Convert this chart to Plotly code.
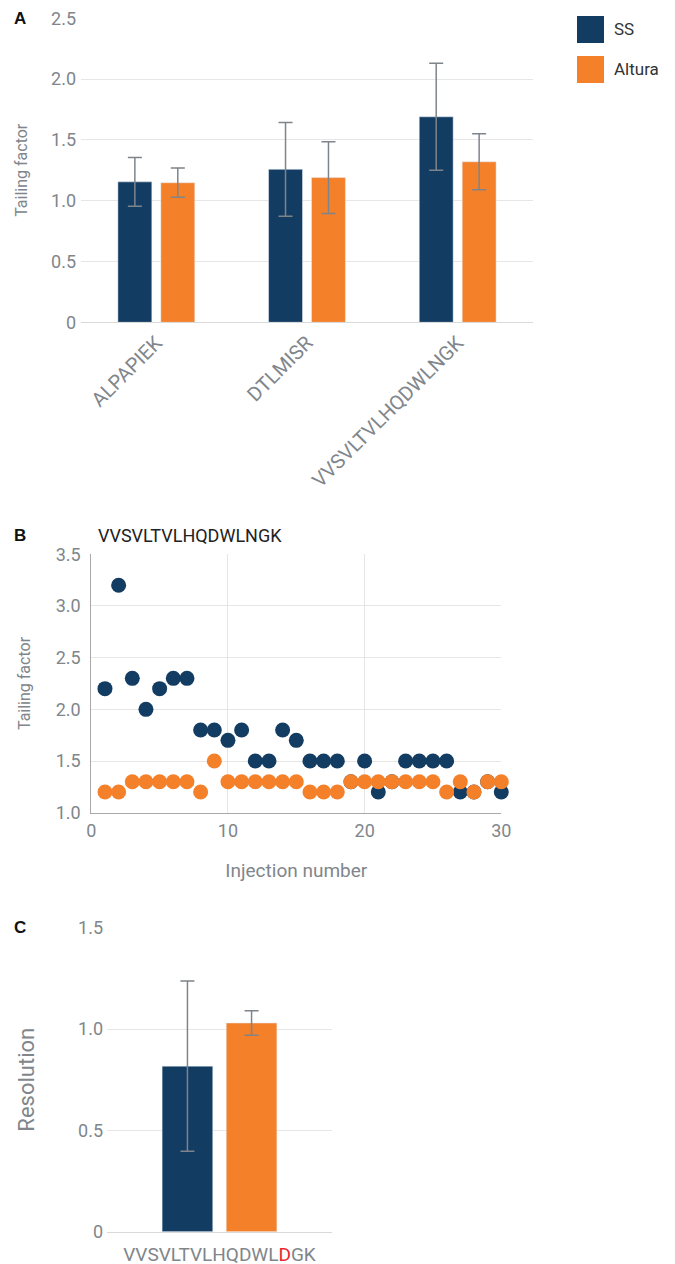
import plotly.graph_objects as go

# ---------------- data ----------------
peptides = ["ALPAPIEK", "DTLMISR", "VVSVLTVLHQDWLNGK"]
tf_ss = [1.155, 1.258, 1.69]
tf_ss_err = [0.2, 0.385, 0.44]
tf_altura = [1.148, 1.19, 1.32]
tf_altura_err = [0.12, 0.295, 0.23]

injection = list(range(1, 31))
inj_ss = [2.2, 3.2, 2.3, 2.0, 2.2, 2.3, 2.3, 1.8, 1.8, 1.7,
          1.8, 1.5, 1.5, 1.8, 1.7, 1.5, 1.5, 1.5, 1.3, 1.5,
          1.2, 1.3, 1.5, 1.5, 1.5, 1.5, 1.2, 1.2, 1.3, 1.2]
inj_altura = [1.2, 1.2, 1.3, 1.3, 1.3, 1.3, 1.3, 1.2, 1.5, 1.3,
              1.3, 1.3, 1.3, 1.3, 1.3, 1.2, 1.2, 1.2, 1.3, 1.3,
              1.3, 1.3, 1.3, 1.3, 1.3, 1.2, 1.3, 1.2, 1.3, 1.3]

res_peptide = ["VVSVLTVLHQDWLDGK"]
res_peptide_label = ["VVSVLTVLHQDWL<span style='color:#e8262b'>D</span>GK"]
res_ss = [0.817]
res_ss_err = [0.42]
res_altura = [1.03]
res_altura_err = [0.06]

a_tickvals = [0, 0.5, 1.0, 1.5, 2.0, 2.5]
a_ticktext = ["0", "0.5", "1.0", "1.5", "2.0", "2.5"]
b_xticks = [0, 10, 20, 30]
b_yticks = [1.0, 1.5, 2.0, 2.5, 3.0, 3.5]
c_tickvals = [0, 0.5, 1.0, 1.5]
c_ticktext = ["0", "0.5", "1.0", "1.5"]
series_names = ["SS", "Altura"]

# ---------------- style ----------------
NAVY = "#133C62"
ORANGE = "#F4802A"
ERR = "#7E848B"
GRID = "#E6E6E6"
TICK = "#80868B"
FONT = "Roboto"
OFF = 8  # page body margin
W, H = 675 - OFF, 1264 - OFF


def px(x):
    return (x - OFF) / W


def py(y):
    return 1 - (y - OFF) / H


err_style = dict(type="data", color=ERR, thickness=1.5, width=7, visible=True)

fig = go.Figure()

# Panel A
fig.add_trace(go.Bar(x=peptides, y=tf_ss, name=series_names[0], marker_color=NAVY,
                     error_y=dict(array=tf_ss_err, **err_style),
                     xaxis="x", yaxis="y", showlegend=False))
fig.add_trace(go.Bar(x=peptides, y=tf_altura, name=series_names[1], marker_color=ORANGE,
                     error_y=dict(array=tf_altura_err, **err_style),
                     xaxis="x", yaxis="y", showlegend=False))

# Panel B
fig.add_trace(go.Scatter(x=injection, y=inj_ss, mode="markers", name=series_names[0],
                         marker=dict(color=NAVY, size=15), cliponaxis=False,
                         xaxis="x2", yaxis="y2", showlegend=False))
fig.add_trace(go.Scatter(x=injection, y=inj_altura, mode="markers", name=series_names[1],
                         marker=dict(color=ORANGE, size=15), cliponaxis=False,
                         xaxis="x2", yaxis="y2", showlegend=False))

# Panel C
fig.add_trace(go.Bar(x=res_peptide, y=res_ss, name=series_names[0], marker_color=NAVY,
                     error_y=dict(array=res_ss_err, **err_style),
                     xaxis="x3", yaxis="y3", showlegend=False))
fig.add_trace(go.Bar(x=res_peptide, y=res_altura, name=series_names[1], marker_color=ORANGE,
                     error_y=dict(array=res_altura_err, **err_style),
                     xaxis="x3", yaxis="y3", showlegend=False))


def tfont(size):
    return dict(family=FONT, size=size, color=TICK)


fig.update_layout(
    width=W, height=H,
    margin=dict(l=0, r=0, t=0, b=0, autoexpand=False),
    paper_bgcolor="white", plot_bgcolor="white",
    barmode="group", bargap=0.43, bargroupgap=0.21,
    font=dict(family=FONT),
    xaxis=dict(domain=[px(81), px(533)], anchor="y", tickangle=-45, tickfont=tfont(20),
               showgrid=False, showline=True, linecolor="#D9D9D9", linewidth=1,
               ticks="", automargin=False, ticklabeloverflow="allow"),
    yaxis=dict(domain=[py(322.3), py(18.3)], anchor="x", range=[0, 2.5001],
               tickvals=a_tickvals, ticktext=a_ticktext, tickfont=tfont(18),
               gridcolor=GRID, gridwidth=1, zeroline=False, showline=False, ticks="",
               ticklabelstandoff=4, automargin=False, ticklabeloverflow="allow",
               title=dict(text="Tailing factor", font=tfont(16), standoff=19)),
    xaxis2=dict(domain=[px(91.3), px(501.3)], anchor="y2", range=[0, 30.001],
                tickvals=b_xticks, tickfont=tfont(18), gridcolor=GRID, zeroline=False,
                showline=True, linecolor="#A8A8A8", linewidth=1, ticks="",
                ticklabelstandoff=2, automargin=False, ticklabeloverflow="allow",
                title=dict(text="Injection number", font=tfont(19), standoff=23)),
    yaxis2=dict(domain=[py(812.7), py(554.3)], anchor="x2", range=[1.0, 3.5001],
                tickvals=b_yticks, tickformat=".1f", tickfont=tfont(18), gridcolor=GRID,
                zeroline=False, showline=True, linecolor="#A8A8A8", linewidth=1, ticks="",
                ticklabelstandoff=6, automargin=False, ticklabeloverflow="allow",
                title=dict(text="Tailing factor", font=tfont(16), standoff=21)),
    xaxis3=dict(domain=[px(107), px(332)], anchor="y3", tickfont=tfont(19),
                tickvals=res_peptide, ticktext=res_peptide_label,
                showgrid=False, showline=True, linecolor="#D9D9D9", linewidth=1, ticks="",
                ticklabelstandoff=5, automargin=False, ticklabeloverflow="allow"),
    yaxis3=dict(domain=[py(1231.7), py(927.7)], anchor="x3", range=[0, 1.5001],
                tickvals=c_tickvals, ticktext=c_ticktext, tickfont=tfont(18),
                gridcolor=GRID, zeroline=False, showline=False, ticks="",
                ticklabelstandoff=3, automargin=False, ticklabeloverflow="allow",
                title=dict(text="Resolution", font=tfont(22), standoff=37)),
)

# panel letters
for letter, y in [("A", 18), ("B", 535), ("C", 928)]:
    fig.add_annotation(text=f"<b>{letter}</b>", x=px(12), y=py(y), xref="paper", yref="paper",
                       xanchor="left", yanchor="middle", showarrow=False,
                       font=dict(family="Liberation Sans", size=17, color="#111111"))

fig.add_annotation(text="VVSVLTVLHQDWLNGK", x=px(96), y=py(535), xref="paper", yref="paper",
                   xanchor="left", yanchor="middle", showarrow=False,
                   font=dict(family=FONT, size=18, color="#222222"))

# legend (drawn)
for i, (name, col) in enumerate(zip(series_names, [NAVY, ORANGE])):
    y0 = 16 + i * 40
    fig.add_shape(type="rect", xref="paper", yref="paper",
                  x0=px(577), x1=px(604), y0=py(y0 + 27), y1=py(y0),
                  fillcolor=col, line=dict(width=0))
    fig.add_annotation(text=name, x=px(612), y=py(y0 + 13.5), xref="paper", yref="paper",
                       xanchor="left", yanchor="middle", showarrow=False,
                       font=dict(family=FONT, size=17, color="#333333"))

fig.write_html("out.html")
